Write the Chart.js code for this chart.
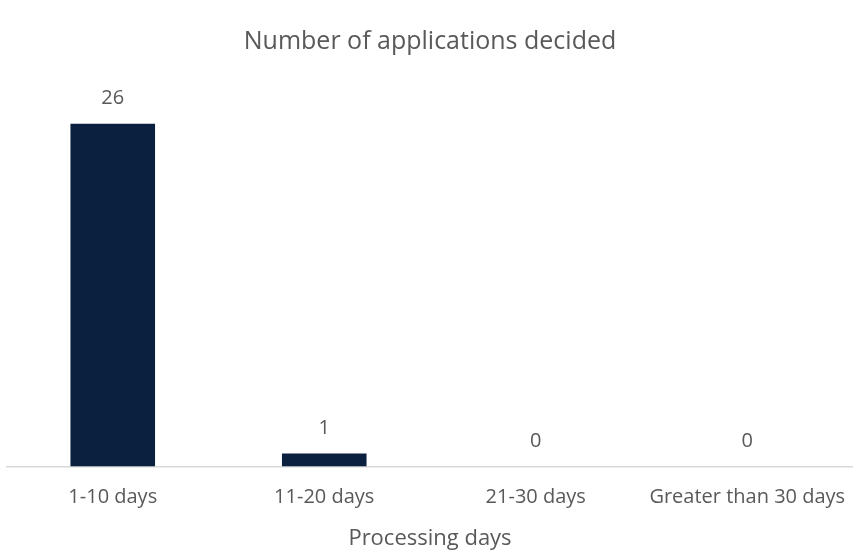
<!DOCTYPE html>
<html>
<head>
<meta charset="utf-8">
<script src="https://cdn.jsdelivr.net/npm/chart.js@4/dist/chart.umd.min.js"></script>
<style>
html,body{margin:0;padding:0;background:#fff;}
#wrap{width:853px;height:557px;}
</style>
</head>
<body>
<div id="wrap"><canvas id="c" width="853" height="557"></canvas></div>
<script>
const categories = ["1-10 days", "11-20 days", "21-30 days", "Greater than 30 days"];
const applications = [26, 1, 0, 0];
const chartTitle = "Number of applications decided";
const xAxisTitle = "Processing days";

const FONT = "'Open Sans', 'Liberation Sans', sans-serif";
const TEXT = "#595959";

const labelPlugin = {
  id: 'barLabels',
  afterDatasetsDraw(chart) {
    const ctx = chart.ctx;
    const meta = chart.getDatasetMeta(0);
    ctx.save();
    ctx.font = "20px " + FONT;
    ctx.fillStyle = TEXT;
    ctx.textAlign = 'center';
    ctx.textBaseline = 'middle';
    meta.data.forEach((bar, i) => {
      ctx.fillText(String(applications[i]), bar.x, bar.y - 25);
    });
    ctx.restore();
  }
};

new Chart(document.getElementById('c'), {
  type: 'bar',
  data: {
    labels: categories,
    datasets: [{
      data: applications,
      backgroundColor: '#0B1F3F',
      borderWidth: 0,
      barPercentage: 0.4,
      categoryPercentage: 1.0
    }]
  },
  options: {
    responsive: false,
    animation: false,
    layout: { padding: { left: 7, right: 0, top: 0, bottom: 5 } },
    plugins: {
      legend: { display: false },
      tooltip: { enabled: false },
      title: {
        display: true,
        text: chartTitle,
        color: TEXT,
        font: { family: FONT, size: 25, weight: 'normal', lineHeight: 1.2 },
        padding: { top: 27, bottom: 14 }
      }
    },
    scales: {
      x: {
        afterFit(scale) { scale.paddingLeft = 0; scale.paddingRight = 0; },
        grid: { display: false, drawTicks: false },
        border: { display: true, color: '#D9D9D9', width: 1.5 },
        ticks: { color: TEXT, font: { family: FONT, size: 20, lineHeight: 1.2 }, padding: 19, maxRotation: 0 },
        title: {
          display: true,
          text: xAxisTitle,
          color: TEXT,
          font: { family: FONT, size: 22, lineHeight: 1.2 },
          padding: { top: -3, bottom: 0 }
        }
      },
      y: {
        display: false,
        min: 0,
        max: 30
      }
    }
  },
  plugins: [labelPlugin]
});
</script>
</body>
</html>
